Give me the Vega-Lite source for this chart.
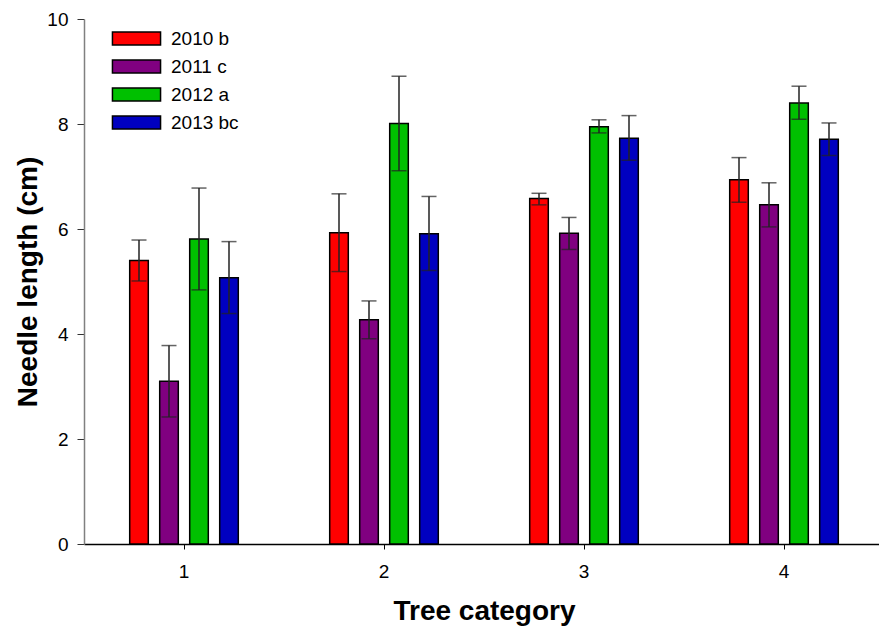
{
  "$schema": "https://vega.github.io/schema/vega-lite/v6.json",
  "autosize": {"type": "none"},
  "padding": {"left": 84, "top": 19, "right": 0, "bottom": 88},
  "width": 795,
  "height": 525,
  "background": "white",
  "config": {
    "view": {"stroke": null},
    "font": "Liberation Sans"
  },
  "data": {
    "values": [
      {"cat": "1", "year": "2010 b", "mean": 5.40, "lo": 5.01, "hi": 5.79},
      {"cat": "1", "year": "2011 c", "mean": 3.10, "lo": 2.42, "hi": 3.78},
      {"cat": "1", "year": "2012 a", "mean": 5.81, "lo": 4.84, "hi": 6.78},
      {"cat": "1", "year": "2013 bc", "mean": 5.07, "lo": 4.39, "hi": 5.76},
      {"cat": "2", "year": "2010 b", "mean": 5.93, "lo": 5.19, "hi": 6.67},
      {"cat": "2", "year": "2011 c", "mean": 4.27, "lo": 3.91, "hi": 4.63},
      {"cat": "2", "year": "2012 a", "mean": 8.01, "lo": 7.11, "hi": 8.91},
      {"cat": "2", "year": "2013 bc", "mean": 5.91, "lo": 5.21, "hi": 6.62},
      {"cat": "3", "year": "2010 b", "mean": 6.58, "lo": 6.46, "hi": 6.68},
      {"cat": "3", "year": "2011 c", "mean": 5.92, "lo": 5.61, "hi": 6.22},
      {"cat": "3", "year": "2012 a", "mean": 7.95, "lo": 7.83, "hi": 8.08},
      {"cat": "3", "year": "2013 bc", "mean": 7.73, "lo": 7.31, "hi": 8.16},
      {"cat": "4", "year": "2010 b", "mean": 6.94, "lo": 6.51, "hi": 7.36},
      {"cat": "4", "year": "2011 c", "mean": 6.46, "lo": 6.04, "hi": 6.88},
      {"cat": "4", "year": "2012 a", "mean": 8.40, "lo": 8.09, "hi": 8.72},
      {"cat": "4", "year": "2013 bc", "mean": 7.71, "lo": 7.40, "hi": 8.02}
    ]
  },
  "encoding": {
    "x": {
      "field": "cat", "type": "nominal",
      "scale": {"range": [0, 800], "paddingInner": 0, "paddingOuter": 0},
      "axis": {
        "title": "Tree category", "labelAngle": 0,
        "titleFont": "Liberation Sans", "titleFontSize": 28, "titleFontWeight": "bold", "titleColor": "black",
        "titlePadding": 16,
        "labelFont": "Liberation Sans", "labelFontSize": 19, "labelColor": "black", "labelPadding": 13,
        "tickSize": 5, "tickColor": "black", "tickWidth": 1,
        "domainColor": "black", "domainWidth": 1.5, "grid": false
      }
    },
    "xOffset": {
      "field": "year", "type": "nominal",
      "scale": {"range": [45.7, 154.3], "paddingInner": 0.38, "paddingOuter": 0}
    }
  },
  "layer": [
    {
      "mark": {"type": "bar", "stroke": "black", "strokeWidth": 1.5},
      "encoding": {
        "y": {
          "field": "mean", "type": "quantitative",
          "scale": {"domain": [0, 10], "nice": false, "zero": true},
          "axis": {
            "title": "Needle length (cm)", "values": [0, 2, 4, 6, 8, 10],
            "titleFont": "Liberation Sans", "titleFontSize": 28, "titleFontWeight": "bold", "titleColor": "black",
            "titlePadding": 4,
            "labelFont": "Liberation Sans", "labelFontSize": 19, "labelColor": "black", "labelPadding": 9,
            "tickSize": 7, "tickColor": "#333333", "tickWidth": 1,
            "domainColor": "#808080", "domainWidth": 1.5, "grid": false
          }
        },
        "color": {
          "field": "year", "type": "nominal",
          "scale": {
            "domain": ["2010 b", "2011 c", "2012 a", "2013 bc"],
            "range": ["#FF0000", "#800080", "#00C000", "#0000C0"]
          },
          "legend": {
            "orient": "none", "legendX": 43, "legendY": 10, "title": null,
            "symbolType": "M-3.7,-1H3.7V1H-3.7Z", "symbolSize": 169,
            "symbolStrokeColor": "black", "symbolStrokeWidth": 1.5, "symbolOpacity": 1,
            "labelFont": "Liberation Sans", "labelFontSize": 19, "labelColor": "black",
            "labelOffset": 25, "rowPadding": 8
          }
        }
      }
    },
    {
      "mark": {"type": "rule", "color": "#222222", "strokeWidth": 1.5},
      "encoding": {
        "y": {"field": "lo", "type": "quantitative"},
        "y2": {"field": "hi"}
      }
    },
    {
      "mark": {"type": "tick", "color": "#222222", "size": 15, "thickness": 1.5, "orient": "horizontal"},
      "encoding": {"y": {"field": "lo", "type": "quantitative"}}
    },
    {
      "mark": {"type": "tick", "color": "#222222", "size": 15, "thickness": 1.5, "orient": "horizontal"},
      "encoding": {"y": {"field": "hi", "type": "quantitative"}}
    }
  ]
}
